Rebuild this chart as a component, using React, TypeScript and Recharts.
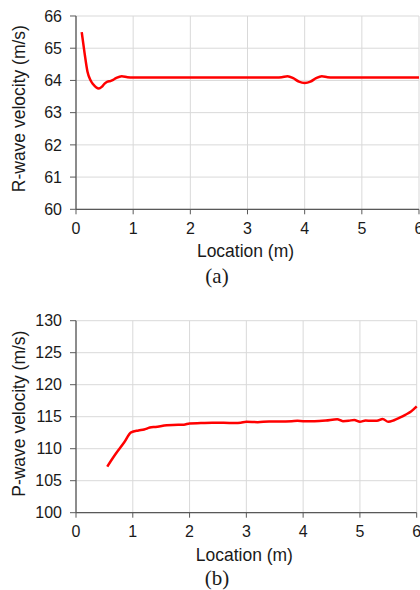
import { LineChart, Line, XAxis, YAxis, CartesianGrid, Label } from "recharts";

// (a) R-wave velocity along the specimen
const rLocation = [
  0.1, 0.15, 0.2, 0.25, 0.3, 0.35, 0.4, 0.45, 0.5, 0.55, 0.6, 0.65, 0.7, 0.8, 0.9, 1.0,
  1.5, 2.0, 2.5, 3.0, 3.5, 3.6, 3.7, 3.8, 3.9, 4.0, 4.1, 4.2, 4.3, 4.4, 4.5, 5.0, 5.5, 6.0,
];
const rVelocity = [
  65.5, 64.85, 64.28, 64.02, 63.88, 63.79, 63.75, 63.8, 63.9, 63.96, 63.98, 64.02, 64.07, 64.13, 64.1, 64.09,
  64.09, 64.09, 64.09, 64.09, 64.09, 64.1, 64.13, 64.07, 63.96, 63.92, 63.96, 64.07, 64.13, 64.1, 64.09, 64.09, 64.09, 64.09,
];

// (b) P-wave velocity along the specimen
const pLocation = [
  0.55, 0.7, 0.85, 0.97, 1.1, 1.2, 1.3, 1.4, 1.6, 1.8, 1.9, 2.0, 2.2, 2.4, 2.6, 2.8, 2.9, 3.0, 3.2, 3.4,
  3.6, 3.8, 3.9, 4.0, 4.2, 4.4, 4.6, 4.7, 4.8, 4.9, 5.0, 5.1, 5.2, 5.3, 5.4, 5.5, 5.6, 5.7, 5.8, 5.9, 6.0,
];
const pVelocity = [
  107.2, 109.2, 111.0, 112.55, 112.85, 113.0, 113.3, 113.4, 113.65, 113.75, 113.75, 113.95, 114.0, 114.05, 114.05, 114.0, 114.05, 114.2, 114.15, 114.25,
  114.25, 114.3, 114.35, 114.3, 114.3, 114.4, 114.6, 114.3, 114.35, 114.5, 114.2, 114.4, 114.35, 114.35, 114.65, 114.2, 114.45, 114.85, 115.3, 115.8, 116.6,
];

const locationTicks = [0, 1, 2, 3, 4, 5, 6];
const rTicks = [60, 61, 62, 63, 64, 65, 66];
const pTicks = [100, 105, 110, 115, 120, 125, 130];

const FONT = "'Liberation Sans', Arial, sans-serif";
const AXIS = "#595959";
const GRID = "#d9d9d9";
const TEXT = "#1a1a1a";

const rData = rLocation.map((x, i) => ({ x, v: rVelocity[i] }));
const pData = pLocation.map((x, i) => ({ x, v: pVelocity[i] }));

const tickStyle = { fontSize: 16, fill: TEXT, fontFamily: FONT };

function yTitle(text: string, shift: number) {
  return (props: any) => {
    const vb = props.viewBox;
    const cx = vb.x + 19;
    const cy = vb.y + vb.height / 2 + shift;
    return (
      <text
        x={cx}
        y={cy}
        transform={`rotate(-90, ${cx}, ${cy})`}
        textAnchor="middle"
        dominantBaseline="central"
        fontSize={17.5}
        fill={TEXT}
        fontFamily={FONT}
      >
        {text}
      </text>
    );
  };
}

function xTitle(text: string, offset: number) {
  return (props: any) => {
    const vb = props.viewBox;
    return (
      <text
        x={vb.x + vb.width / 2 - 2}
        y={vb.y + offset}
        textAnchor="middle"
        dominantBaseline="central"
        fontSize={17.5}
        fill={TEXT}
        fontFamily={FONT}
      >
        {text}
      </text>
    );
  };
}

interface PanelProps {
  data: { x: number; v: number }[];
  ticks: number[];
  title: string;
  top: number;
  right: number;
  plotHeight: number;
  titleShift: number;
}

function Panel({ data, ticks, title, top, right, plotHeight, titleShift }: PanelProps) {
  const xAxisHeight = 52;
  return (
    <LineChart
      width={440}
      height={top + plotHeight + xAxisHeight}
      data={data}
      margin={{ top, right, bottom: 0, left: 0 }}
    >
      <CartesianGrid stroke={GRID} strokeWidth={1} />
      <XAxis
        dataKey="x"
        type="number"
        domain={[0, 6]}
        ticks={locationTicks}
        height={xAxisHeight}
        tick={tickStyle}
        tickSize={5}
        tickMargin={8}
        stroke={AXIS}
        tickLine={{ stroke: AXIS }}
        axisLine={{ stroke: AXIS, strokeWidth: 1.3 }}
        interval={0}
      >
        <Label content={xTitle("Location (m)", 42)} />
      </XAxis>
      <YAxis
        type="number"
        domain={[ticks[0], ticks[ticks.length - 1]]}
        ticks={ticks}
        width={76}
        tick={tickStyle}
        tickSize={6}
        tickMargin={8}
        stroke={AXIS}
        tickLine={{ stroke: AXIS }}
        axisLine={{ stroke: AXIS, strokeWidth: 1.3 }}
        interval={0}
      >
        <Label content={yTitle(title, titleShift)} />
      </YAxis>
      <Line
        dataKey="v"
        type="monotone"
        stroke="#ff0000"
        strokeWidth={2.5}
        dot={false}
        isAnimationActive={false}
      />
    </LineChart>
  );
}

const captionStyle: React.CSSProperties = {
  position: "absolute",
  left: 0,
  width: 434,
  textAlign: "center",
  fontFamily: "'Liberation Serif', 'Times New Roman', serif",
  fontSize: 21,
  color: TEXT,
  lineHeight: "22px",
};

export default function App() {
  return (
    <div style={{ position: "absolute", left: 0, top: 0, width: 420, height: 590, overflow: "hidden", background: "#fff" }}>
      <div style={{ position: "absolute", left: 0, top: 0 }}>
        <Panel data={rData} ticks={rTicks} title="R-wave velocity (m/s)" top={16} right={21} plotHeight={193.3} titleShift={-4} />
      </div>
      <div style={{ ...captionStyle, top: 265 }}>(a)</div>
      <div style={{ position: "absolute", left: 0, top: 290 }}>
        <Panel data={pData} ticks={pTicks} title="P-wave velocity (m/s)" top={30.7} right={23.3} plotHeight={192} titleShift={-3} />
      </div>
      <div style={{ ...captionStyle, top: 567 }}>(b)</div>
    </div>
  );
}
